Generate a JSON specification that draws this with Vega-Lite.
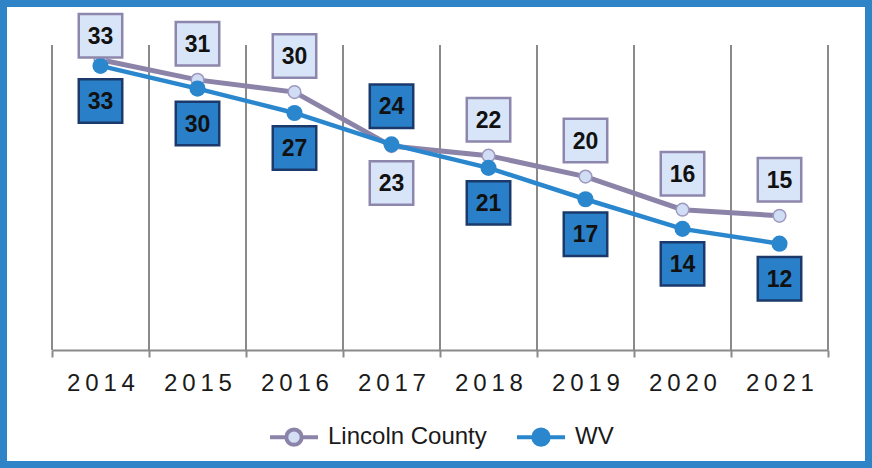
{
  "$schema": "https://vega.github.io/schema/vega-lite/v6.json",
  "width": 872,
  "height": 468,
  "autosize": {"type": "none"},
  "padding": 0,
  "background": "white",
  "config": {
    "view": {"stroke": "#2e84c6", "strokeWidth": 14, "cornerRadius": 6},
    "font": "Liberation Sans"
  },
  "data": {
    "values": [
      {"year": "2014", "series": "Lincoln County", "value": 33.3},
      {"year": "2015", "series": "Lincoln County", "value": 31.0},
      {"year": "2016", "series": "Lincoln County", "value": 29.6},
      {"year": "2017", "series": "Lincoln County", "value": 23.4},
      {"year": "2018", "series": "Lincoln County", "value": 22.3},
      {"year": "2019", "series": "Lincoln County", "value": 19.9},
      {"year": "2020", "series": "Lincoln County", "value": 16.1},
      {"year": "2021", "series": "Lincoln County", "value": 15.4},
      {"year": "2014", "series": "WV", "value": 32.6},
      {"year": "2015", "series": "WV", "value": 30.0},
      {"year": "2016", "series": "WV", "value": 27.2},
      {"year": "2017", "series": "WV", "value": 23.6},
      {"year": "2018", "series": "WV", "value": 20.9},
      {"year": "2019", "series": "WV", "value": 17.3},
      {"year": "2020", "series": "WV", "value": 13.9},
      {"year": "2021", "series": "WV", "value": 12.2}
    ]
  },
  "encoding": {
    "x": {
      "field": "year",
      "type": "ordinal",
      "scale": {"range": [52, 828], "paddingInner": 0, "paddingOuter": 0},
      "axis": {
        "title": null,
        "orient": "bottom",
        "offset": -118,
        "grid": false,
        "domain": true,
        "domainColor": "#8a8a8a",
        "domainWidth": 2,
        "ticks": true,
        "tickBand": "extent",
        "tickColor": "#8a8a8a",
        "tickWidth": 2,
        "tickSize": 7,
        "labelAngle": 0,
        "labelFont": "Liberation Sans",
        "labelFontSize": 24,
        "labelColor": "#1a1a1a",
        "labelBaseline": "middle",
        "labelPadding": 26,
        "labelExpr": "join(split(datum.label, ''), '\u2009')"
      }
    },
    "y": {
      "field": "value",
      "type": "quantitative",
      "scale": {"domain": [0, 35], "range": [350, 45], "nice": false},
      "axis": null
    }
  },
  "layer": [
    {
      "transform": [{"filter": "datum.series == 'WV'"}],
      "mark": {"type": "rule", "color": "#8a8a8a", "strokeWidth": 2, "xOffset": -48.5},
      "encoding": {
        "y": {"datum": 0, "type": "quantitative"},
        "y2": {"datum": 35}
      }
    },
    {
      "transform": [{"filter": "datum.series == 'WV' && datum.year == '2021'"}],
      "mark": {"type": "rule", "color": "#8a8a8a", "strokeWidth": 2, "xOffset": 48.5},
      "encoding": {
        "y": {"datum": 0, "type": "quantitative"},
        "y2": {"datum": 35}
      }
    },
    {
      "transform": [{"filter": "datum.series == 'Lincoln County'"}],
      "mark": {"type": "line", "strokeWidth": 5},
      "encoding": {
        "color": {
          "field": "series",
          "type": "nominal",
          "scale": {"domain": ["Lincoln County", "WV"], "range": ["#8b84a8", "#2b87cd"]},
          "legend": {
            "orient": "none",
            "legendX": 268,
            "legendY": 411,
            "direction": "horizontal",
            "title": null,
            "padding": 0,
            "symbolType": "M-1,0H-0.32M0.32,0H1M-0.32,0A0.32,0.32 0 1,1 0.32,0A0.32,0.32 0 1,1 -0.32,0Z",
            "symbolSize": 2304,
            "symbolStrokeWidth": 4,
            "labelFont": "Liberation Sans",
            "labelFontSize": 24,
            "labelColor": "#1a1a1a",
            "labelOffset": 8,
            "columnPadding": 22,
            "encode": {
              "symbols": {
                "update": {
                  "fill": {"signal": "datum.value === 'WV' ? '#2b87cd' : '#d3dff5'"},
                  "fillOpacity": {"value": 1}
                }
              }
            }
          }
        }
      }
    },
    {
      "transform": [{"filter": "datum.series == 'WV'"}],
      "mark": {"type": "line", "strokeWidth": 4.5},
      "encoding": {
        "color": {"field": "series", "type": "nominal"}
      }
    },
    {
      "transform": [{"filter": "datum.series == 'Lincoln County'"}],
      "mark": {"type": "point", "shape": "circle", "filled": true, "fill": "#d0ddf4", "stroke": "#9d98bd", "strokeWidth": 1.5, "size": 160, "opacity": 1}
    },
    {
      "transform": [{"filter": "datum.series == 'WV'"}],
      "mark": {"type": "point", "shape": "circle", "filled": true, "color": "#2b87cd", "size": 260, "opacity": 1}
    },
    {
      "transform": [{"filter": "datum.series == 'Lincoln County'"}],
      "mark": {
        "type": "point", "shape": "square", "size": 1890, "filled": true,
        "fill": "#d8e4f8", "stroke": "#8e87ad", "strokeWidth": 2.5, "opacity": 1,
        "yOffset": {"expr": "datum.year == '2017' ? 37 : (datum.year == '2014' ? -24 : -36)"}
      }
    },
    {
      "transform": [{"filter": "datum.series == 'Lincoln County'"}],
      "mark": {
        "type": "text", "font": "Liberation Sans", "fontSize": 23, "fontWeight": "bold",
        "color": "#111111", "baseline": "middle", "align": "center",
        "yOffset": {"expr": "datum.year == '2017' ? 38 : (datum.year == '2014' ? -23 : -35)"}
      },
      "encoding": {"text": {"field": "value", "format": ".0f"}}
    },
    {
      "transform": [{"filter": "datum.series == 'WV'"}],
      "mark": {
        "type": "point", "shape": "square", "size": 1890, "filled": true,
        "fill": "#2a80c8", "stroke": "#1b3a6b", "strokeWidth": 2.5, "opacity": 1,
        "yOffset": {"expr": "datum.year == '2017' ? -38 : 35"}
      }
    },
    {
      "transform": [{"filter": "datum.series == 'WV'"}],
      "mark": {
        "type": "text", "font": "Liberation Sans", "fontSize": 23, "fontWeight": "bold",
        "color": "#111111", "baseline": "middle", "align": "center",
        "yOffset": {"expr": "datum.year == '2017' ? -37 : 36"}
      },
      "encoding": {"text": {"field": "value", "format": ".0f"}}
    }
  ]
}
